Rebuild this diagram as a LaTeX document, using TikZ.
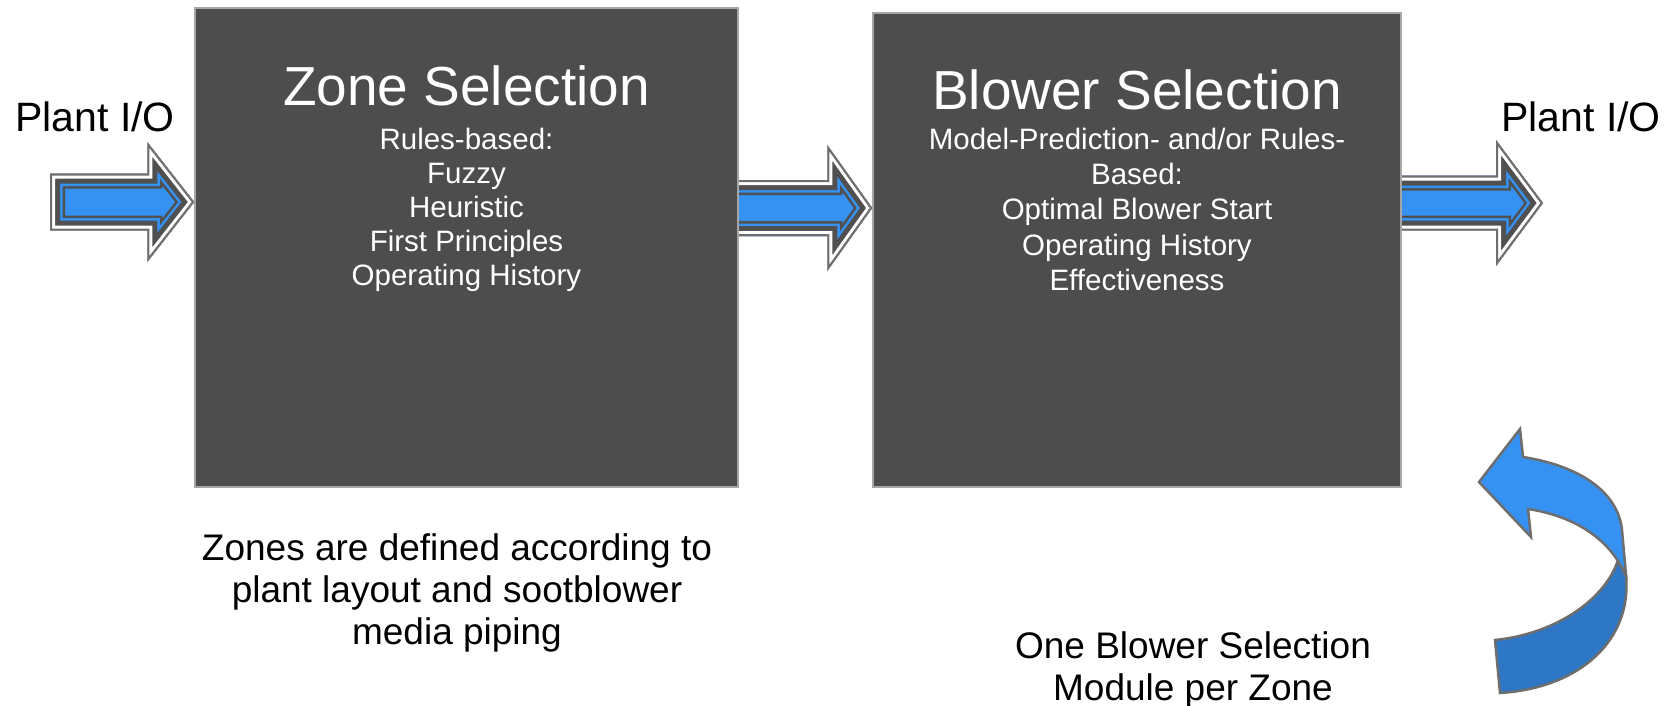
\documentclass[tikz,border=0pt]{standalone}
\usepackage{fontspec}
\setmainfont{Liberation Sans}
\usetikzlibrary{calc,backgrounds}
\definecolor{boxgray}{HTML}{4D4D4D}
\definecolor{boxrim}{HTML}{A6A6A6}
\definecolor{arrowblue}{HTML}{3592F2}
\definecolor{arrowdark}{HTML}{505050}
\definecolor{arrowrim}{HTML}{6E6E6E}
\definecolor{bluedeep}{HTML}{2E76C6}
\tikzset{
  blockbox/.style={draw=boxrim, line width=1.5pt, fill=boxgray, inner sep=0pt},
  boxtitle/.style={text=white, font=\fontsize{55}{60}\selectfont, inner sep=0pt},
  boxlist/.style={text=white, align=center, inner sep=0pt},
  iolabel/.style={font=\fontsize{41}{46}\selectfont, inner sep=0pt},
  notetext/.style={align=center, inner sep=0pt},
  turnarrow/.style={draw=arrowrim, line width=2.5pt}
}
% block arrow: tail, tip, shaft half height, head half height, head length
\newcommand{\blockarrow}[5]{%
  \def\arrowpath{($(#1)+(0,-#3)$) -- ($(#2)+(-#5,-#3)$) -- ($(#2)+(-#5,-#4)$) -- (#2)
    -- ($(#2)+(-#5,#4)$) -- ($(#2)+(-#5,#3)$) -- ($(#1)+(0,#3)$) -- cycle}%
  \begin{scope}
    \clip \arrowpath;
    \fill[arrowblue] \arrowpath;
    \draw[arrowdark, line width=30pt] \arrowpath;
    \draw[arrowblue, line width=25pt] \arrowpath;
    \draw[arrowdark, line width=20pt] \arrowpath;
    \draw[white, line width=10pt] \arrowpath;
    \draw[arrowrim, line width=4pt] \arrowpath;
  \end{scope}}

\begin{document}
\begin{tikzpicture}[x=1pt, y=-1pt]
  \useasboundingbox (0,0) rectangle (1672,706);
  % selection blocks
  \node[blockbox, minimum width=543pt, minimum height=479pt] (zone) at (466.5,247.5) {};
  \node[blockbox, minimum width=528pt, minimum height=474pt] (blower) at (1137,250) {};
  \node[boxtitle, anchor=base] (zoneTitle) at (466.5,106) {Zone Selection};
  \node[boxtitle, anchor=base] (blowerTitle) at (1137,109.5) {Blower Selection};
  \node[boxlist, anchor=north, font=\fontsize{29.5}{34.1}\selectfont] (zoneList) at (466.5,128)
    {Rules-based:\\Fuzzy\\Heuristic\\First Principles\\Operating History};
  \node[boxlist, anchor=north, font=\fontsize{29.5}{35.2}\selectfont] (blowerList) at (1137,128)
    {Model-Prediction- and/or Rules-\\Based:\\Optimal Blower Start\\Operating History\\Effectiveness};
  % plant signals
  \node[iolabel, anchor=base] (plantInLabel) at (95,131.7) {Plant I/O};
  \node[iolabel, anchor=base] (plantOutLabel) at (1581,131.7) {Plant I/O};
  % notes
  \node[notetext, anchor=north, font=\fontsize{37}{42}\selectfont] (zoneNote) at (457,533.5)
    {Zones are defined according to\\plant layout and sootblower\\media piping};
  \node[notetext, anchor=north, font=\fontsize{37}{42}\selectfont] (moduleNote) at (1193,631)
    {One Blower Selection\\Module per Zone};
  % flow arrows
  \coordinate (plantIn) at (50,202);
  \coordinate (zoneIn) at (zone.west |- plantIn);
  \coordinate (zoneOut) at (718,208);
  \coordinate (blowerIn) at (blower.west |- zoneOut);
  \coordinate (blowerOut) at (1385,203);
  \coordinate (plantOut) at (1543,203);
  \begin{scope}[on background layer]
    \blockarrow{plantIn}{zoneIn}{28.5}{60}{47}
    \blockarrow{zoneOut}{blowerIn}{28}{63}{45}
    \blockarrow{blowerOut}{plantOut}{27.5}{63}{47}
  \end{scope}
  % one module per zone
  \draw[turnarrow, fill=bluedeep] (1618,560) -- (1626,576) .. controls (1632,640) and (1580,688) .. (1500,693)
    -- (1495,640) .. controls (1555,634) and (1605,600) .. (1618,560) -- cycle;
  \draw[turnarrow, fill=arrowblue] (1479,482) -- (1520,429) -- (1523,457)
    .. controls (1580,466) and (1618,492) .. (1622,530) -- (1626,575) -- (1618,561)
    .. controls (1600,533) and (1568,515) .. (1528,509) -- (1531,537) -- cycle;
\end{tikzpicture}
\end{document}
